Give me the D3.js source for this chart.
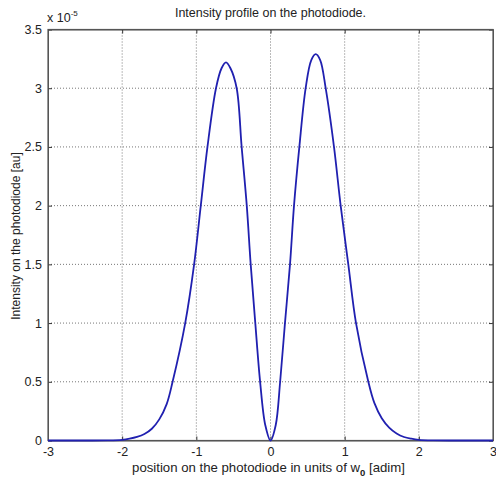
<!DOCTYPE html>
<html>
<head>
<meta charset="utf-8">
<script src="https://d3js.org/d3.v7.min.js"></script>
<style>
  body { margin: 0; background: #fff; }
  text { font-family: "Liberation Sans", Arial, sans-serif; fill: #222; }
</style>
</head>
<body>
<div id="chart"></div>
<script>
// positions along the photodiode (units of w0)
var xs = [-3, -2.5, -2.2, -2.0, -1.9, -1.8, -1.7, -1.6, -1.5, -1.4, -1.32, -1.15, -1.03, -0.94, -0.85, -0.735, -0.66, -0.6, -0.54, -0.456,
          -0.389, -0.32, -0.267, -0.205, -0.14, -0.07, 0, 0.07, 0.13, 0.195, 0.263, 0.317, 0.389, 0.474, 0.55, 0.61, 0.67,
          0.744, 0.856, 0.946, 1.049, 1.153, 1.319, 1.4, 1.5, 1.6, 1.7, 1.8, 1.9, 2.0, 2.2, 2.5, 3];
// intensity (x 10^-5 au)
var intensity = [0, 0, 0.001, 0.006, 0.015, 0.03, 0.055, 0.1, 0.18, 0.31, 0.5, 1.0, 1.5, 2.0, 2.5, 3.0, 3.17, 3.22, 3.17, 3.0,
                 2.5, 2.0, 1.5, 1.0, 0.5, 0.13, 0, 0.13, 0.5, 1.0, 1.5, 2.0, 2.5, 3.0, 3.24, 3.29, 3.24,
                 3.0, 2.5, 2.0, 1.5, 1.0, 0.5, 0.32, 0.19, 0.11, 0.06, 0.03, 0.015, 0.006, 0.001, 0, 0];
var xTicks = [-3, -2, -1, 0, 1, 2, 3];
var yTicks = [0, 0.5, 1, 1.5, 2, 2.5, 3, 3.5];

var W = 496, H = 480;
var margin = {top: 29.5, right: 3, bottom: 39.5, left: 48},
    width = W - margin.left - margin.right,
    height = H - margin.top - margin.bottom;

var x = d3.scaleLinear().domain([-3, 3]).range([0, width]);
var y = d3.scaleLinear().domain([0, 3.5]).range([height, 0]);

var svg = d3.select("#chart").append("svg")
    .attr("width", W).attr("height", H);
var g = svg.append("g")
    .attr("transform", "translate(" + margin.left + "," + margin.top + ")");

// grid
g.selectAll(".gx").data(xTicks.slice(1, -1)).enter().append("line")
    .attr("x1", d => x(d)).attr("x2", d => x(d))
    .attr("y1", 0).attr("y2", height)
    .attr("stroke", "#777").attr("stroke-width", 1).attr("stroke-dasharray", "1,2");
g.selectAll(".gy").data(yTicks.slice(1, -1)).enter().append("line")
    .attr("y1", d => y(d)).attr("y2", d => y(d))
    .attr("x1", 0).attr("x2", width)
    .attr("stroke", "#777").attr("stroke-width", 1).attr("stroke-dasharray", "1,2");

// axes (ticks inward, on all four sides)
var tickLen = 4;
g.append("g").attr("transform", "translate(0," + height + ")")
    .call(d3.axisBottom(x).tickValues(xTicks).tickSizeInner(-tickLen).tickSizeOuter(0).tickPadding(7).tickFormat(d => String(d)));
g.append("g")
    .call(d3.axisTop(x).tickValues(xTicks).tickSizeInner(-tickLen).tickSizeOuter(0).tickFormat(""));
g.append("g")
    .call(d3.axisLeft(y).tickValues(yTicks).tickSizeInner(-tickLen).tickSizeOuter(0).tickPadding(6).tickFormat(d => d));
g.append("g").attr("transform", "translate(" + width + ",0)")
    .call(d3.axisRight(y).tickValues(yTicks).tickSizeInner(-tickLen).tickSizeOuter(0).tickFormat(""));

g.selectAll(".domain").attr("stroke", "#555");
g.selectAll(".tick line").attr("stroke", "#333");
g.selectAll(".tick text").style("font-size", "12.5px").attr("fill", "#222");

g.append("rect").attr("width", width).attr("height", height)
    .attr("fill", "none").attr("stroke", "#555").attr("stroke-width", 1.2);

// curve
var data = xs.map((v, i) => ({x: v, y: intensity[i]}));
var line = d3.line()
    .x(d => x(d.x))
    .y(d => y(d.y))
    .curve(d3.curveCatmullRom.alpha(0.5));
g.append("path").datum(data)
    .attr("d", line)
    .attr("fill", "none")
    .attr("stroke", "#2020b0")
    .attr("stroke-width", 1.8);

// exponent label
var ex = svg.append("text").attr("x", 47).attr("y", 22).style("font-size", "12.5px");
ex.append("tspan").text("x 10");
ex.append("tspan").attr("dy", -6).style("font-size", "8px").text("-5");

// title
svg.append("text").attr("x", margin.left + width / 2).attr("y", 17)
    .attr("text-anchor", "middle").style("font-size", "12.5px")
    .text("Intensity profile on the photodiode.");

// x label
var xl = svg.append("text").attr("x", margin.left + width / 2 - 2).attr("y", 472)
    .attr("text-anchor", "middle").style("font-size", "13.2px");
xl.append("tspan").text("position on the photodiode in units of w");
xl.append("tspan").attr("dy", 4).style("font-size", "9.5px").style("font-weight", "bold").text("0");
xl.append("tspan").attr("dy", -4).text(" [adim]");

// y label
svg.append("text")
    .attr("transform", "translate(20," + (margin.top + height / 2 + 1) + ") rotate(-90)")
    .attr("text-anchor", "middle").style("font-size", "12px")
    .text("Intensity on the photodiode [au]");
</script>
</body>
</html>
